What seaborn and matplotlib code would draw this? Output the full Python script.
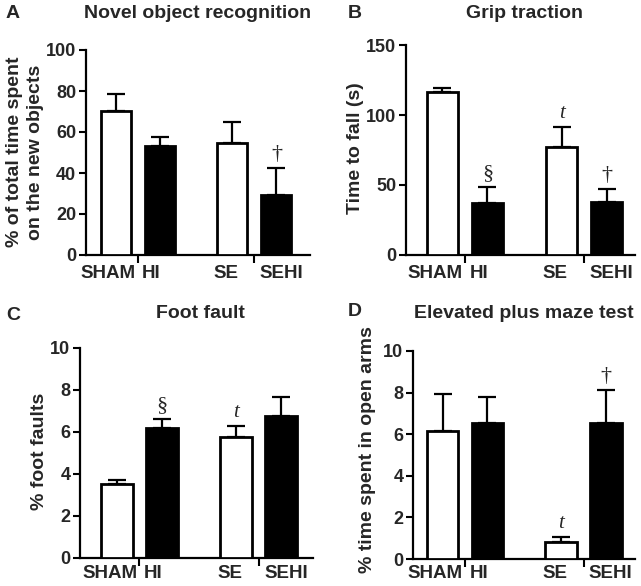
import numpy as np
import pandas as pd
import matplotlib
matplotlib.use("Agg")
import matplotlib.pyplot as plt
import seaborn as sns

# ---------------- data ----------------
groups = ["SHAM", "HI", "SE", "SEHI"]
bar_colors = ["white", "black", "white", "black"]

novel_mean = [70.2, 53.3, 54.8, 29.3]
novel_sem = [8.2, 4.4, 9.9, 13.0]
grip_mean = [116.2, 37.1, 77.4, 37.9]
grip_sem = [3.3, 11.2, 14.0, 9.2]
foot_mean = [3.54, 6.2, 5.75, 6.75]
foot_sem = [0.16, 0.43, 0.54, 0.9]
epm_mean = [6.13, 6.56, 0.82, 6.56]
epm_sem = [1.79, 1.23, 0.24, 1.58]

novel_marks = {"SEHI": "†"}
grip_marks = {"HI": "§", "SE": "t", "SEHI": "†"}
foot_marks = {"HI": "§", "SE": "t"}
epm_marks = {"SE": "t", "SEHI": "†"}

titles = ["Novel object recognition", "Grip traction", "Foot fault",
          "Elevated plus maze test"]
letters = ["A", "B", "C", "D"]
ylabels = ["% of total time spent\non the new objects", "Time to fall (s)",
           "% foot faults", "% time spent in open arms"]
yticks = [[0, 20, 40, 60, 80, 100], [0, 50, 100, 150],
          [0, 2, 4, 6, 8, 10], [0, 2, 4, 6, 8, 10]]

# ---------------- style ----------------
sns.set_style("ticks")
plt.rcParams["font.family"] = ["Liberation Sans", "DejaVu Sans"]
plt.rcParams["font.weight"] = "bold"

W, H = 641, 586
fig = plt.figure(figsize=(W / 100, H / 100), dpi=100)

positions = [0.0, 1.0, 2.65, 3.65]
label_off = [-0.16, -0.19, -0.14, 0.10]
pair_ticks = [0.5, 3.15]

# panel geometry in pixels: (axis left x, top y, right x, bottom y), xlim, bar width
panels = [
    dict(px=(86, 50, 310, 255), xlim=(-0.67, 4.41), width=0.68,
         mean=novel_mean, sem=novel_sem, marks=novel_marks, ylim=100, pad=7,
         title_xy=(198, 14), letter_xy=(13, 14), ylab_xy=(25, 152)),
    dict(px=(406, 45, 635, 255), xlim=(-0.81, 4.28), width=0.69,
         mean=grip_mean, sem=grip_sem, marks=grip_marks, ylim=150, pad=7,
         title_xy=(525, 13), letter_xy=(355, 14), ylab_xy=(356, 148)),
    dict(px=(80, 348, 313, 558), xlim=(-0.82, 4.35), width=0.71,
         mean=foot_mean, sem=foot_sem, marks=foot_marks, ylim=10, pad=5,
         title_xy=(200, 313), letter_xy=(13, 315), ylab_xy=(40, 451)),
    dict(px=(413, 351, 635, 559), xlim=(-0.66, 4.30), width=0.70,
         mean=epm_mean, sem=epm_sem, marks=epm_marks, ylim=10, pad=4,
         title_xy=(524, 313), letter_xy=(355, 312), ylab_xy=(368, 450)),
]

for i, p in enumerate(panels):
    x0, y0, x1, y1 = p["px"]
    ax = fig.add_axes([x0 / W, 1 - y1 / H, (x1 - x0) / W, (y1 - y0) / H])
    df = pd.DataFrame({"pos": positions, "val": p["mean"], "grp": groups})
    sns.barplot(data=df, x="pos", y="val", hue="grp",
                palette=dict(zip(groups, bar_colors)), native_scale=True,
                dodge=False, legend=False, errorbar=None, width=p["width"],
                edgecolor="black", linewidth=2.0, ax=ax, zorder=3)
    ax.errorbar(positions, p["mean"], yerr=[np.zeros(4), p["sem"]], fmt="none",
                ecolor="black", elinewidth=1.6, capsize=6.5, capthick=1.6,
                zorder=2)
    for g, sym in p["marks"].items():
        k = groups.index(g)
        top = p["mean"][k] + p["sem"][k]
        if sym == "t":
            kw = dict(family=["Liberation Serif"], style="italic",
                      weight="normal", fontsize=15)
        else:
            kw = dict(family=["Liberation Serif", "DejaVu Serif"],
                      weight="normal", fontsize=16)
        ax.annotate(sym, (positions[k], top), xytext=(0, 3),
                    textcoords="offset points", ha="center", va="bottom", **kw)

    ax.set_xlim(*p["xlim"])
    ax.set_ylim(0, p["ylim"])
    ax.set_yticks(yticks[i])
    ax.set_yticklabels([str(v) for v in yticks[i]], fontsize=13,
                       fontweight="bold")
    ax.set_xticks([a + b for a, b in zip(positions, label_off)])
    ax.set_xticklabels(groups, fontsize=13.5, fontweight="bold")
    ax.tick_params(axis="x", which="major", length=0, pad=p["pad"])
    ax.set_xticks(pair_ticks, minor=True)
    ax.tick_params(axis="x", which="minor", length=6, width=1.5,
                   direction="out", color="black")
    ax.tick_params(axis="y", length=5, width=1.5, direction="out",
                   color="black", pad=2)
    ax.set_xlabel("")
    ax.set_ylabel("")
    for s in ["top", "right"]:
        ax.spines[s].set_visible(False)
    for s in ["left", "bottom"]:
        ax.spines[s].set_linewidth(1.6)
        ax.spines[s].set_color("black")

    tx, ty = p["title_xy"]
    fig.text(tx / W, 1 - ty / H, titles[i], ha="center", va="center",
             fontsize=14, fontweight="bold")
    lx, ly = p["letter_xy"]
    fig.text(lx / W, 1 - ly / H, letters[i], ha="center", va="center",
             fontsize=14, fontweight="bold")
    yx, yy = p["ylab_xy"]
    fig.text(yx / W, 1 - yy / H, ylabels[i], ha="center", va="center",
             rotation=90, fontsize=14, fontweight="bold", linespacing=1.25)

fig.savefig("out.png", dpi=100)
